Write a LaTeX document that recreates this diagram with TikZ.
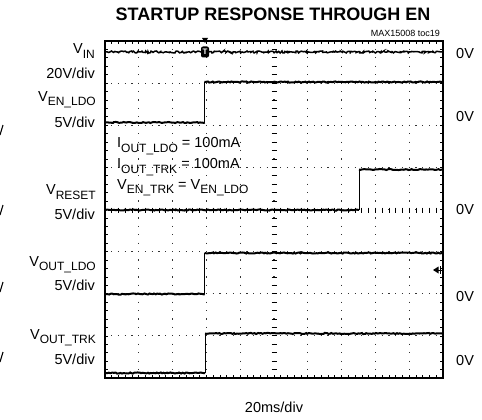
\documentclass[tikz,border=0pt]{standalone}
\usepackage{fontspec}
\setmainfont{Liberation Sans}
\usetikzlibrary{decorations.pathmorphing}
\newcommand\lsub[1]{\raisebox{-0.3em}{\fontsize{12}{12}\selectfont #1}}
\tikzset{
  lbl/.style={font=\fontsize{14.5}{14.5}\selectfont, inner sep=0pt, anchor=east},
  zero/.style={font=\fontsize{14.5}{14.5}\selectfont, inner sep=0pt, anchor=west},
  note/.style={font=\fontsize{14.5}{14.5}\selectfont, inner sep=0pt, anchor=west},
  hgrid/.style={line width=1.2pt, black!80, dash pattern=on 1.2pt off 5.56pt, dash phase=0.6pt},
  vgrid/.style={line width=1.2pt, black!80, dash pattern=on 1.2pt off 7.225pt, dash phase=0.6pt},
  trace/.style={line width=2pt, decorate, decoration={random steps, segment length=1.6pt, amplitude=0.55pt}},
  edge/.style={line width=1pt},
  frame/.style={line width=2pt},
  frag/.style={line width=1.1pt},
}
\begin{document}
\begin{tikzpicture}[x=1pt,y=-1pt]
\pgfmathsetseed{7}
\useasboundingbox (0,0) rectangle (482,420);
% grid
\foreach \i in {1,...,7} {
  \draw[hgrid] (105,41+42.125*\i) -- (443,41+42.125*\i);
}
\foreach \i in {1,...,9} {
  \draw[vgrid] (105+33.8*\i,41) -- (105+33.8*\i,378);
}
% centre axis ticks
\foreach \k in {1,...,39} {
  \draw[line width=0.8pt] (271.5,41+8.425*\k) -- (276.5,41+8.425*\k);
}
\foreach \k in {1,...,49} {
  \draw[line width=0.8pt] (105+6.76*\k,207.5) -- (105+6.76*\k,212.5);
}
% border ticks
\foreach \k in {1,...,49} {
  \draw[line width=0.7pt] (105+6.76*\k,41) -- (105+6.76*\k,44);
  \draw[line width=0.7pt] (105+6.76*\k,378) -- (105+6.76*\k,375);
}
\foreach \k in {1,...,39} {
  \draw[line width=0.7pt] (105,41+8.425*\k) -- (108,41+8.425*\k);
  \draw[line width=0.7pt] (443,41+8.425*\k) -- (440,41+8.425*\k);
}
% traces
% VIN
\draw[line width=1.5pt, decorate, decoration={random steps, segment length=1.2pt, amplitude=1pt}] (106,52) -- (442,52);
% VEN_LDO
\draw[trace] (106,122.5) -- (204.5,122.5);
\draw[edge] (204.5,122.5) -- (204.5,82);
\draw[trace] (204.5,82) -- (442,82);
% VRESET
\draw[trace] (106,210) -- (359,210);
\draw[edge] (359,210) -- (359,169.5);
\draw[trace] (359,169.5) -- (442,169.5);
% VOUT_LDO
\draw[trace] (106,294) -- (204.5,294);
\draw[edge] (204.5,294) -- (204.5,253);
\draw[trace] (204.5,253) -- (442,253);
% VOUT_TRK
\draw[trace] (106,373) -- (205,373);
\draw[edge] (205,373) -- (205,333.5);
\draw[trace] (205,333.5) -- (442,333.5);
% frame
\draw[frame] (105,41) rectangle (443,378);
% trigger markers
\fill (202,38) -- (208,38) -- (205,43) -- cycle;
\node (trig) [fill=black, rounded corners=2pt, minimum width=8pt, minimum height=11pt, inner sep=0pt, text=white, font=\fontsize{8}{8}\selectfont\bfseries] at (205,52) {T};
\fill (433,270) -- (438.5,266.5) -- (438.5,273.5) -- cycle;
\draw[line width=1pt] (438,270) -- (442,270);
\draw[line width=0.8pt] (440,266) -- (440,274);
% title
\node (title) [font=\fontsize{18}{18}\selectfont\bfseries, inner sep=0pt] at (273,14) {STARTUP RESPONSE THROUGH EN};
\node (toc) [font=\fontsize{9}{9}\selectfont, inner sep=0pt, anchor=east] at (440,33) {MAX15008 toc19};
\node (xlab) [font=\fontsize{14.5}{14.5}\selectfont, inner sep=0pt] at (274,407) {20ms/div};
% left labels
\node (vin) [lbl] at (95,51) {V\lsub{IN}};
\node (vin2) [lbl] at (95,73) {20V/div};
\node (ven) [lbl] at (96,100) {V\lsub{EN\_LDO}};
\node (ven2) [lbl] at (95,122) {5V/div};
\node (vrs) [lbl] at (96,192) {V\lsub{RESET}};
\node (vrs2) [lbl] at (95,214) {5V/div};
\node (vol) [lbl] at (96,265) {V\lsub{OUT\_LDO}};
\node (vol2) [lbl] at (95,285) {5V/div};
\node (vot) [lbl] at (96,338) {V\lsub{OUT\_TRK}};
\node (vot2) [lbl] at (95,359) {5V/div};
% right zero labels
\node (z1) [zero] at (456,54) {0V};
\node (z2) [zero] at (456,117) {0V};
\node (z3) [zero] at (456,210) {0V};
\node (z4) [zero] at (456,297) {0V};
\node (z5) [zero] at (456,361) {0V};
% conditions
\node (c1) [note] at (117,146) {I\lsub{OUT\_LDO} = 100mA};
\node (c2) [note] at (117,167) {I\lsub{OUT\_TRK} = 100mA};
\node (c3) [note] at (117,188) {V\lsub{EN\_TRK} = V\lsub{EN\_LDO}};
% clipped glyph fragments at the left edge
\foreach \yy in {130,210,287,357} {
  \draw[frag] (0,\yy+5) -- (3,\yy-5);
}
\end{tikzpicture}
\end{document}
